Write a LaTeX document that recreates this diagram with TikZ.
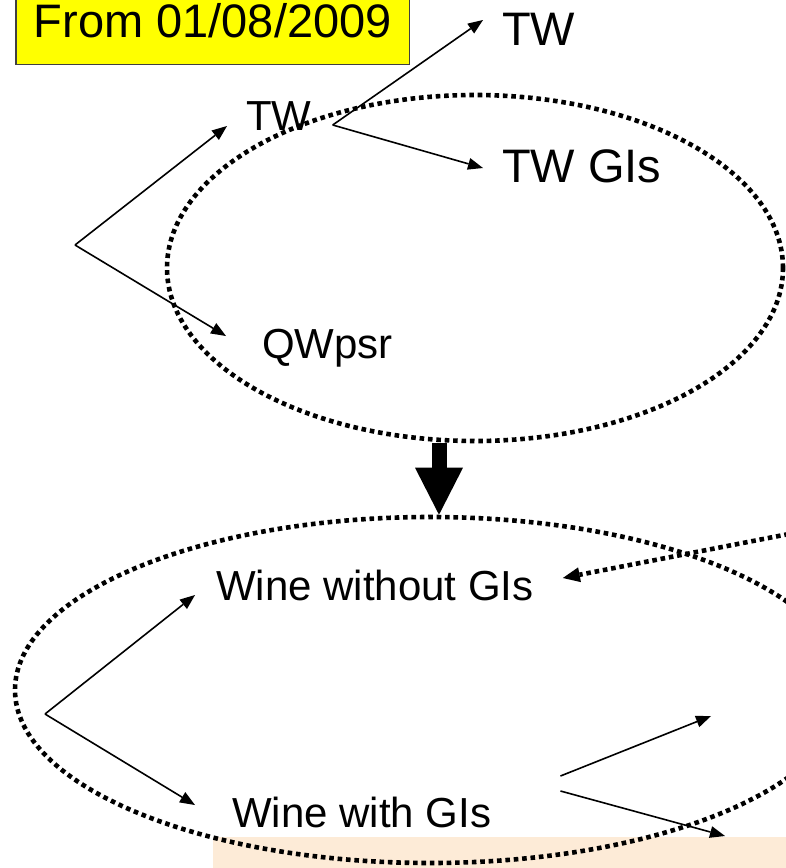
\documentclass[tikz,border=0pt]{standalone}
\usepackage{fontspec}
\setmainfont{Liberation Sans}
\usetikzlibrary{arrows.meta,shapes.geometric}
\definecolor{datebox}{RGB}{255,255,0}
\definecolor{peach}{RGB}{253,235,215}

\begin{document}
\begin{tikzpicture}[x=1pt,y=-1pt,
    big/.style={font=\fontsize{47}{50}\selectfont,inner sep=0,anchor=base west},
    txt/.style={font=\fontsize{42}{45}\selectfont,inner sep=0,anchor=base west},
    link/.style={line width=1.6pt,-{Triangle[length=15pt,width=12pt,line width=0pt]}},
    dots/.style={line width=4.6pt,dash pattern=on 4.6pt off 3.8pt},
    set/.style={ellipse,draw,dots,inner sep=0}]
    \useasboundingbox (0,0) rectangle (785,868);
    \fill[peach] (213,837) rectangle (800,880);
    \node[big,draw=black!75,line width=1.5pt,fill=datebox,text height=60pt,inner xsep=18pt,inner ysep=27pt] (date) at (15,37) {From 01/08/2009};
    \node[big] (twtop) at (502,45) {TW};
    \node[txt] (tw) at (246,130) {TW};
    \node[big] (twgi) at (502,182) {TW GIs};
    \node[txt] (qw) at (262,358) {QWpsr};
    \node[txt] (nogi) at (216,600) {Wine without GIs};
    \node[txt] (withgi) at (232,827) {Wine with GIs};
    \coordinate (twroot) at (75,245);
    \coordinate (twfork) at ([shift={(21,-5)}]tw.base east);
    \coordinate (wineroot) at (45,714);
    \coordinate (gione) at (711,716);
    \coordinate (gitwo) at (725,836);
    \coordinate (loopin) at (830,526);
    \draw[link] (twroot) -- ([shift={(-19,-4)}]tw.base west);
    \draw[link] (twroot) -- ([shift={(-36,-22)}]qw.base west);
    \draw[link] (twfork) -- ([shift={(-19,-25)}]twtop.base west);
    \draw[link] (twfork) -- ([shift={(-19,-14)}]twgi.base west);
    \draw[link] (wineroot) -- ([shift={(-21,-5)}]nogi.base west);
    \draw[link] (wineroot) -- ([shift={(-37,-22)}]withgi.base west);
    \draw[link] ([shift={(69,-51)}]withgi.base east) -- (gione);
    \draw[link] ([shift={(69,-36)}]withgi.base east) -- (gitwo);
    \node[set,minimum width=616pt,minimum height=346pt] (twset) at (475,268) {};
    \node[set,minimum width=830pt,minimum height=346pt] (wineset) at (430,690) {};
    \draw[dots,-{Triangle[length=17pt,width=15pt,line width=0pt]}] (loopin) -- ([shift={(29,-22)}]nogi.base east);
    \draw[line width=15pt,-{Triangle[length=47pt,width=48pt,line width=0pt]}] ([xshift=9pt]wineset.north |- twset.south) -- ([xshift=9pt]wineset.north);
\end{tikzpicture}
\end{document}
